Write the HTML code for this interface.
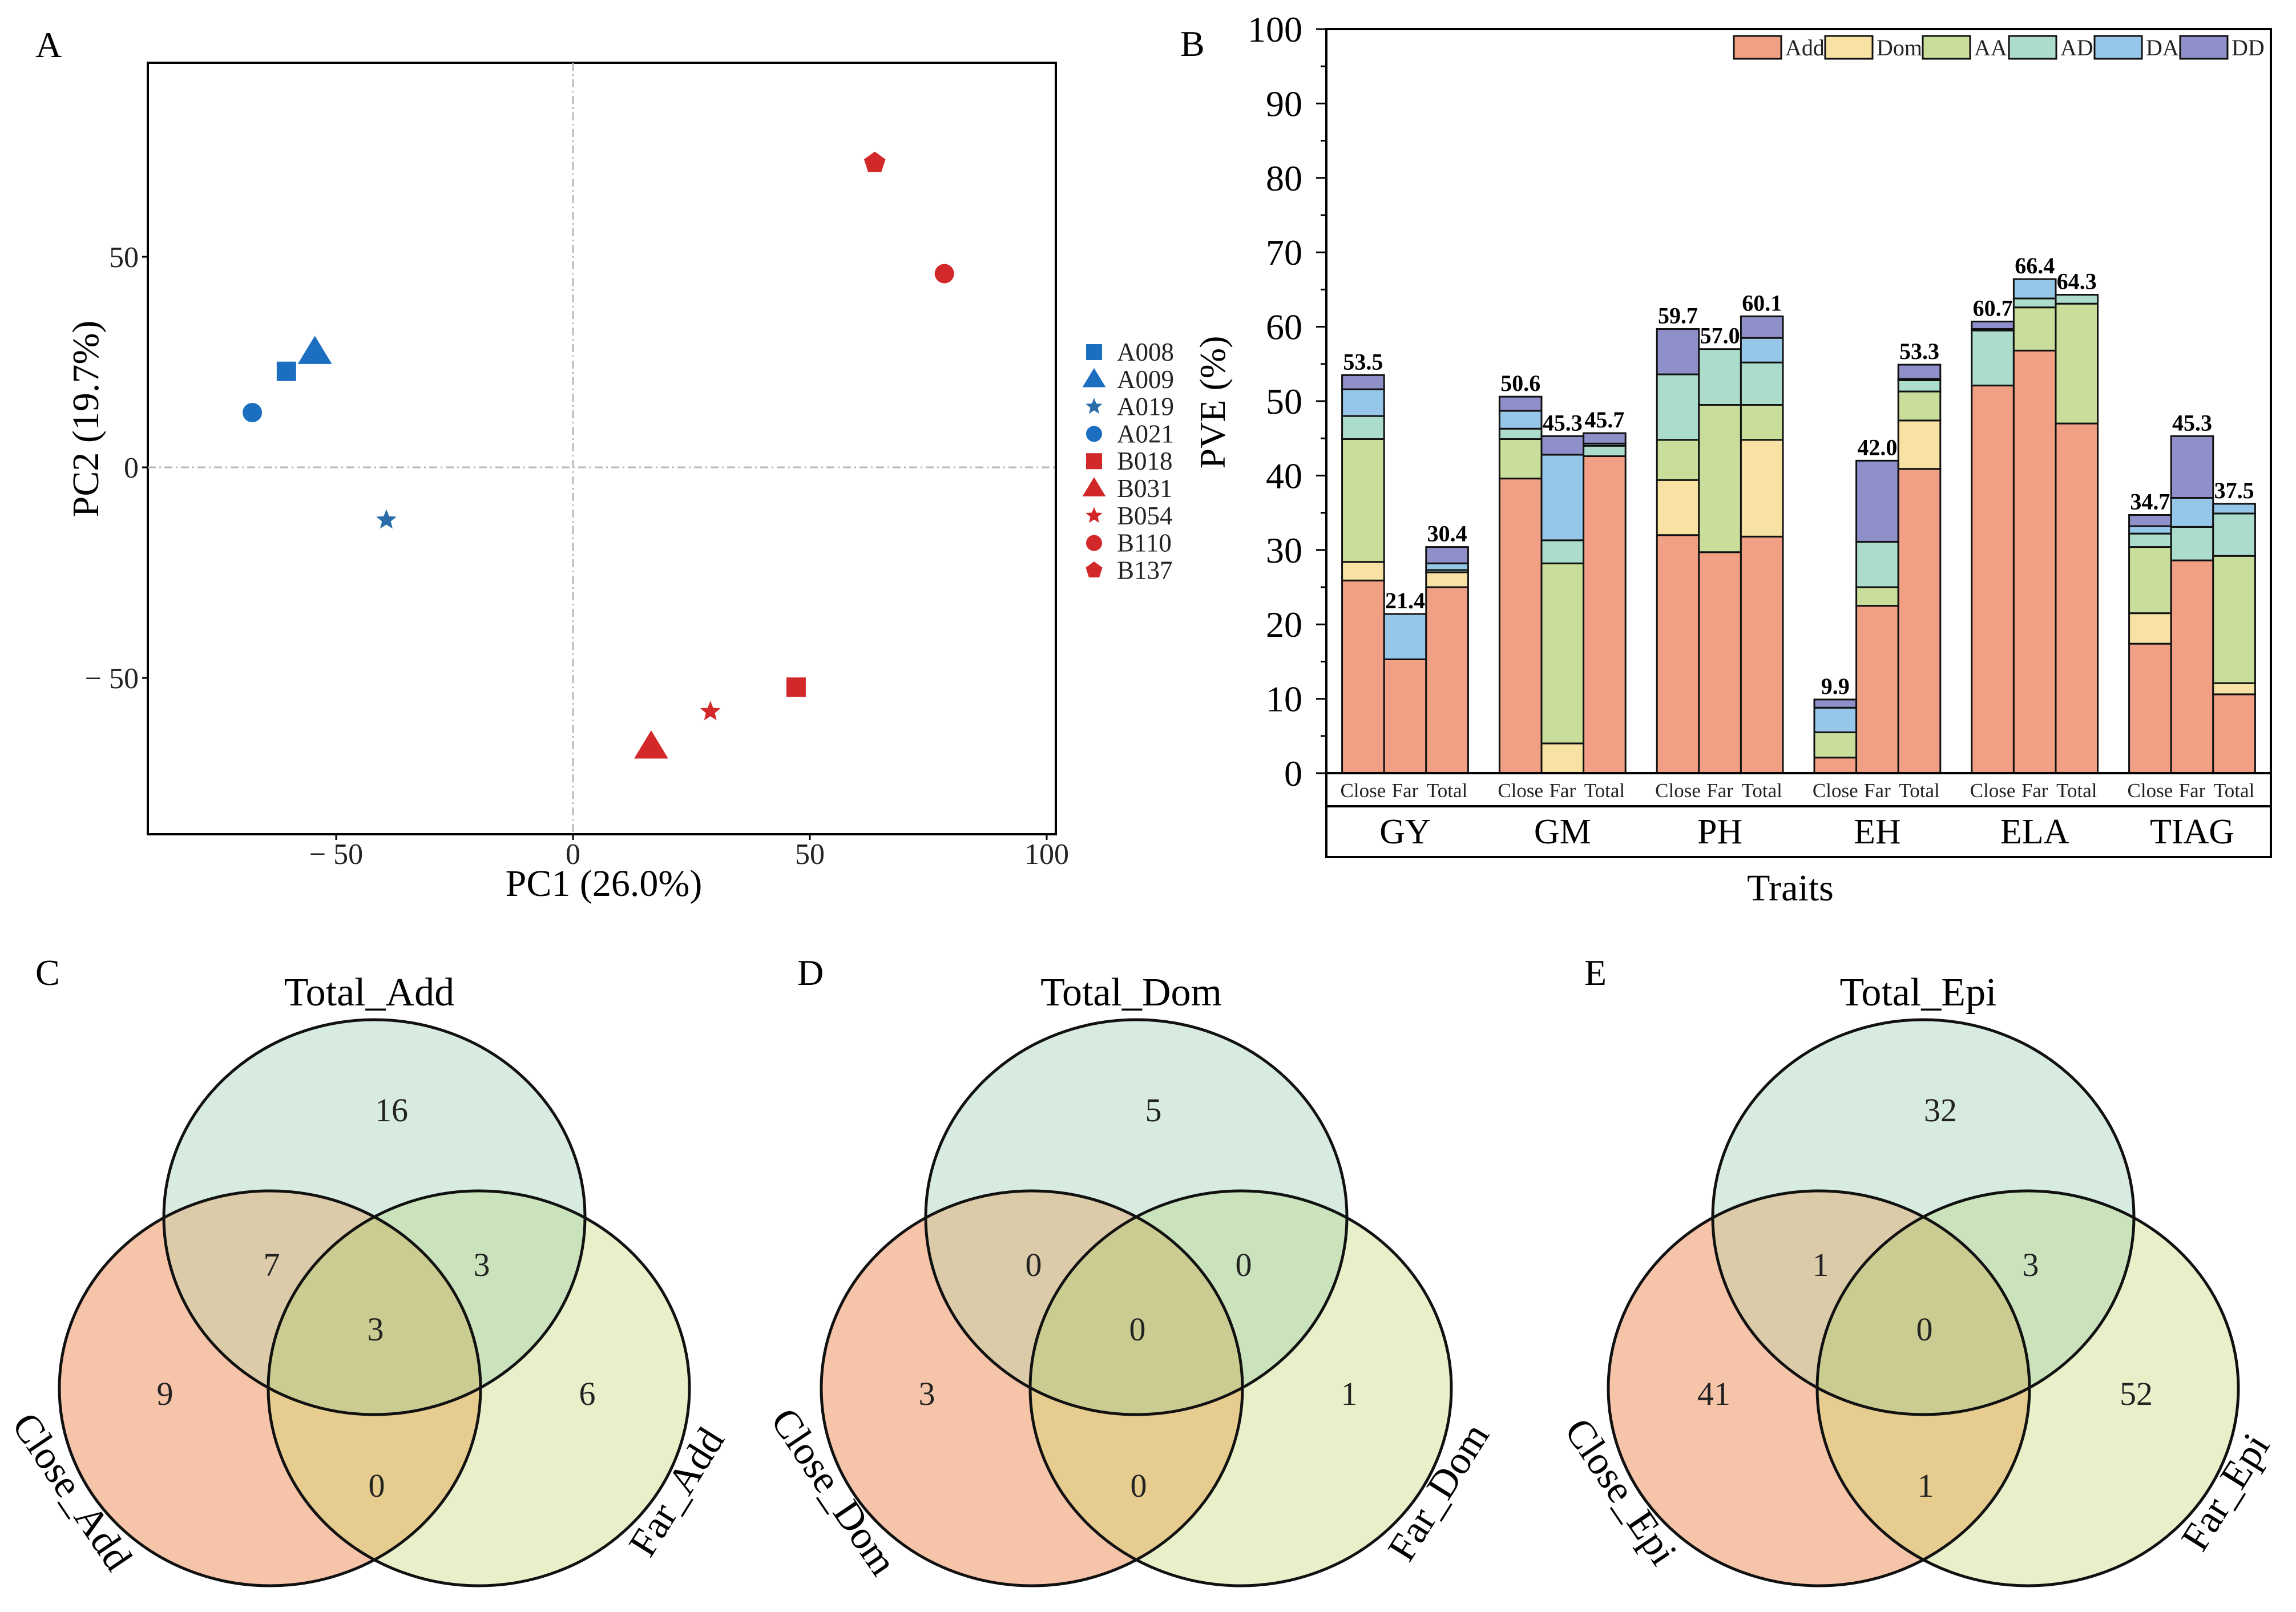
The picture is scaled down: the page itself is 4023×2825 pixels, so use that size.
<!DOCTYPE html>
<html><head><meta charset="utf-8"><style>
html,body{margin:0;padding:0;background:#fff;}
svg{display:block;font-family:"Liberation Serif",serif;}
</style></head><body>
<svg id="fig" width="4023" height="2825" viewBox="0 0 4023 2825" xmlns="http://www.w3.org/2000/svg">
<defs></defs>
<g id="pA"></g>
<g id="pB"></g>
<g id="pC"></g>
<g id="pD"></g>
<g id="pE"></g>
</svg>
<script>
// ---------- Panel A data ----------
const sampleNames = ["A008","A009","A019","A021","B018","B031","B054","B110","B137"];
const pc1Values = [-60.5,-54.5,-39.4,-67.7,47.1,16.5,29.0,78.4,63.7];
const pc2Values = [22.8,27.3,-12.5,13.0,-52.2,-66.4,-58.0,46.0,72.3];
const sampleShapes = ["square","triangle","star","circle","square","triangle","star","circle","pentagon"];
const sampleGroups = ["A","A","A","A","B","B","B","B","B"];
const pcaXTicks = [-50,0,50,100];
const pcaYTicks = [-50,0,50];

// ---------- Panel B data ----------
const traits = ["GY","GM","PH","EH","ELA","TIAG"];
const populations = ["Close","Far","Total"];
const components = ["Add","Dom","AA","AD","DA","DD"];
const addVals = [25.9,15.3,25.0, 39.6,0,42.6, 32.0,29.7,31.8, 2.1,22.5,40.9, 52.1,56.8,47.0, 17.4,28.6,10.6];
const domVals = [2.5,0,2.0, 0,4.0,0, 7.4,0,13.0, 0,0,6.5, 0,0,0, 4.1,0,1.5];
const aaVals  = [16.5,0,0, 5.3,24.2,0, 5.4,19.8,4.7, 3.4,2.5,3.9, 0,5.8,16.1, 8.9,0,17.1];
const adVals  = [3.1,0,0.3, 1.4,3.1,1.4, 8.8,7.5,5.7, 0,6.1,1.5, 7.4,1.2,1.2, 1.8,4.5,5.7];
const daVals  = [3.6,6.1,0.9, 2.4,11.5,0.3, 0,0,3.3, 3.3,0,0.2, 0.2,2.6,0, 1.0,3.9,1.3];
const ddVals  = [1.9,0,2.2, 1.9,2.5,1.4, 6.1,0,2.9, 1.1,10.9,1.9, 1.0,0,0, 1.5,8.3,0];
const totalLabels = ["53.5","21.4","30.4","50.6","45.3","45.7","59.7","57.0","60.1","9.9","42.0","53.3","60.7","66.4","64.3","34.7","45.3","37.5"];
const pveTicks = [0,10,20,30,40,50,60,70,80,90,100];

// ---------- Venn data ----------
// order: topOnly, closeOnly, farOnly, top&close, top&far, close&far, all
const vennAdd = [16,9,6,7,3,0,3];
const vennDom = [5,3,1,0,0,0,0];
const vennEpi = [32,41,52,1,3,1,0];
const vennAddNames = ["Total_Add","Close_Add","Far_Add"];
const vennDomNames = ["Total_Dom","Close_Dom","Far_Dom"];
const vennEpiNames = ["Total_Epi","Close_Epi","Far_Epi"];

const NS="http://www.w3.org/2000/svg";
function mk(parent,tag,attrs,text){const e=document.createElementNS(NS,tag);for(const k in attrs)e.setAttribute(k,attrs[k]);if(text!==undefined)e.textContent=text;parent.appendChild(e);return e;}

// ================= Panel A =================
(function(){
const g=document.getElementById('pA');
const L=259,R=1850,T=110,B=1462;
const xs=v=>1004+v*8.3, ys=v=>819-v*7.38;
let t=mk(g,'text',{x:62,y:100,'font-size':64},'A');


let r=mk(g,'rect',{x:L,y:T,width:R-L,height:B-T,fill:'none',stroke:'#000','stroke-width':4});


let l1=mk(g,'line',{x1:xs(0),x2:xs(0),y1:T,y2:B,stroke:'#b8b8b8','stroke-width':3,'stroke-dasharray':'14 6 3 6'});


let l2=mk(g,'line',{x1:L,x2:R,y1:ys(0),y2:ys(0),stroke:'#b8b8b8','stroke-width':3,'stroke-dasharray':'14 6 3 6'});


pcaXTicks.forEach(v=>{
  let tk=mk(g,'line',{x1:xs(v),x2:xs(v),y1:B,y2:B+10,stroke:'#000','stroke-width':3});
  
  
  let tl=mk(g,'text',{x:xs(v),y:1514,'font-size':52,'text-anchor':'middle',fill:'#222'},v<0?'\u2212'+' '+Math.abs(v):String(v));
  
  
});
pcaYTicks.forEach(v=>{
  let tk=mk(g,'line',{x1:L-10,x2:L,y1:ys(v),y2:ys(v),stroke:'#000','stroke-width':3});
  
  
  let tl=mk(g,'text',{x:243,y:ys(v)+18,'font-size':52,'text-anchor':'end',fill:'#222'},v<0?'\u2212'+' '+Math.abs(v):String(v));
  
  
});
let xt=mk(g,'text',{x:1058,y:1570,'font-size':66,'text-anchor':'middle'},'PC1 (26.0%)');


let yt=mk(g,'text',{x:0,y:0,'font-size':66,'text-anchor':'middle',transform:'translate(172,734) rotate(-90)'},'PC2 (19.7%)');


function shape(parent,kind,cx,cy,s,color){
  let e;
  if(kind==='square') e=mk(parent,'rect',{x:cx-s*0.5,y:cy-s*0.5,width:s,height:s,fill:color});
  else if(kind==='circle') e=mk(parent,'circle',{cx:cx,cy:cy,r:s*0.5,fill:color});
  else if(kind==='triangle'){const h=s*0.66;e=mk(parent,'polygon',{points:`${cx},${cy-h} ${cx+s*0.68},${cy+h*0.7} ${cx-s*0.68},${cy+h*0.7}`,fill:color});}
  else if(kind==='star'){let p=[];for(let i=0;i<10;i++){const a=-Math.PI/2+i*Math.PI/5;const rr=i%2?s*0.24:s*0.55;p.push((cx+rr*Math.cos(a)).toFixed(1)+','+(cy+rr*Math.sin(a)).toFixed(1));}e=mk(parent,'polygon',{points:p.join(' '),fill:color});}
  else {let p=[];for(let i=0;i<5;i++){const a=-Math.PI/2+i*2*Math.PI/5;p.push((cx+s*0.55*Math.cos(a)).toFixed(1)+','+(cy+s*0.55*Math.sin(a)).toFixed(1));}e=mk(parent,'polygon',{points:p.join(' '),fill:color});}
  return e;
}
const col=gp=>gp==='A'?'#1c6fc0':'#d2282a';
const sizes={square:34,circle:34,triangle:44,star:34,pentagon:36};
sampleNames.forEach((n,i)=>{
  const c=sampleShapes[i]==='star'&&sampleGroups[i]==='A'?'#2a6da8':col(sampleGroups[i]);
  let m=shape(g,sampleShapes[i],xs(pc1Values[i]),ys(pc2Values[i]),sizes[sampleShapes[i]],c);
  
  
  const ly=617+i*47.8;
  let lm=shape(g,sampleShapes[i],1917,ly,sampleShapes[i]==='triangle'?30:28,c);
  
  
  let lt=mk(g,'text',{x:1957,y:ly+15,'font-size':45,fill:'#222'},n);
  
  
});
})();

// ================= Panel B =================
(function(){
const g=document.getElementById('pB');
const L=2324,R=3979,T=51,Y0=1355,SEP=1413,BOT=1502;
const ys=v=>Y0-v*13.04;
const bx=(i,j)=>2351.6+i*275.8+j*73.6, bw=73.6;
const colors={Add:'#f1a086',Dom:'#f7e2a4',AA:'#c9de9b',AD:'#acdccb',DA:'#96c7e9',DD:'#8f8fc9'};
const series=[addVals,domVals,aaVals,adVals,daVals,ddVals];
let t=mk(g,'text',{x:2068,y:98,'font-size':64},'B');


pveTicks.forEach(v=>{
  let tk=mk(g,'line',{x1:L-18,x2:L,y1:ys(v),y2:ys(v),stroke:'#000','stroke-width':3});
  
  
  if(v<100){let mt=mk(g,'line',{x1:L-10,x2:L,y1:ys(v+5),y2:ys(v+5),stroke:'#000','stroke-width':3});
  
  }
  let tl=mk(g,'text',{x:2282,y:ys(v)+22,'font-size':64,'text-anchor':'end'},String(v));
  
  
});
let yt=mk(g,'text',{x:0,y:0,'font-size':64,'text-anchor':'middle',transform:'translate(2146,705) rotate(-90)'},'PVE (%)');


traits.forEach((tr,i)=>{
  populations.forEach((p,j)=>{
    const k=i*3+j;let acc=0;
    series.forEach((s,si)=>{
      const v=s[k];if(v<=0)return;
      let r=mk(g,'rect',{x:bx(i,j),y:ys(acc+v),width:bw,height:v*13.04,fill:colors[components[si]],stroke:'#111','stroke-width':3});
      
      
      acc+=v;
    });
    let vl=mk(g,'text',{x:bx(i,j)+bw/2,y:ys(acc)-10,'font-size':40,'font-weight':'bold','text-anchor':'middle'},totalLabels[k]);
    
    
    let xl=mk(g,'text',{x:bx(i,j)+bw/2,y:1397,'font-size':35,'text-anchor':'middle',fill:'#222'},p);
    
    
  });
  let tl=mk(g,'text',{x:bx(i,1)+bw/2,y:1478,'font-size':62,'text-anchor':'middle'},tr);
  
  
});
let fr=mk(g,'rect',{x:L,y:T,width:R-L,height:BOT-T,fill:'none',stroke:'#000','stroke-width':4});


let b0=mk(g,'line',{x1:L,x2:R,y1:Y0,y2:Y0,stroke:'#000','stroke-width':4});


let b1=mk(g,'line',{x1:L,x2:R,y1:SEP,y2:SEP,stroke:'#000','stroke-width':4});


let xt=mk(g,'text',{x:3137,y:1578,'font-size':66,'text-anchor':'middle'},'Traits');


const lgX=[3038,3198,3369,3520,3670,3820];
components.forEach((c,i)=>{
  let sw=mk(g,'rect',{x:lgX[i],y:63,width:83,height:40,fill:colors[c],stroke:'#111','stroke-width':3});
  
  
  let lt=mk(g,'text',{x:lgX[i]+90,y:97,'font-size':40,fill:'#222'},c);
  
  
});
})();

// ================= Venns =================
const defs=document.querySelector('defs');
function venn(id,letter,cx,cy,counts,names){
  const g=document.getElementById(id);
  const rx=369,ry=346;
  const cs=[[cx,cy],[cx-183,cy+300],[cx+183,cy+300]];
  cs.forEach((c,i)=>{const cp=mk(defs,'clipPath',{id:id+'c'+i});mk(cp,'ellipse',{cx:c[0],cy:c[1],rx:rx,ry:ry});});
  const base=['#d8ebe0','#f6c5a9','#e8f0c9'];
  cs.forEach((c,i)=>{let e=mk(g,'ellipse',{cx:c[0],cy:c[1],rx:rx,ry:ry,fill:base[i]});
    
    });
  const pairs=[[0,1,'#dbcba9'],[0,2,'#cbe3bc'],[1,2,'#e6cc8e']];
  pairs.forEach(p=>{const gg=mk(g,'g',{'clip-path':`url(#${id}c${p[0]})`});
    let e=mk(gg,'ellipse',{cx:cs[p[1]][0],cy:cs[p[1]][1],rx:rx,ry:ry,fill:p[2]});
    
    });
  const g1=mk(g,'g',{'clip-path':`url(#${id}c0)`});const g2=mk(g1,'g',{'clip-path':`url(#${id}c1)`});
  let tri=mk(g2,'ellipse',{cx:cs[2][0],cy:cs[2][1],rx:rx,ry:ry,fill:'#cbcc91'});
  
  
  cs.forEach((c,i)=>{let e=mk(g,'ellipse',{cx:c[0],cy:c[1],rx:rx,ry:ry,fill:'none',stroke:'#111','stroke-width':5});
    
    });
  const off=[[30,-188],[-367,309],[373,309],[-180,83],[188,83],[4,470],[2,196]];
  counts.forEach((v,i)=>{let t=mk(g,'text',{x:cx+off[i][0],y:cy+off[i][1]+20,'font-size':58,'text-anchor':'middle',fill:'#222'},String(v));
    
    });
  let tt=mk(g,'text',{x:cx-9,y:cy-395+24,'font-size':70,'text-anchor':'middle'},names[0]);
  
  
  let t1=mk(g,'text',{x:0,y:0,'font-size':70,'text-anchor':'middle',transform:`translate(${cx-549},${cy+494}) rotate(56)`},names[1]);
  
  
  let t2=mk(g,'text',{x:0,y:0,'font-size':70,'text-anchor':'middle',transform:`translate(${cx+549},${cy+494}) rotate(-58)`},names[2]);
  
  
  let pl=mk(g,'text',{x:cx-594,y:cy-431+24,'font-size':64},letter);
  
  
}
venn('pC','C',656,2133,vennAdd,vennAddNames);
venn('pD','D',1991,2133,vennDom,vennDomNames);
venn('pE','E',3370,2133,vennEpi,vennEpiNames);
</script>
</body></html>
